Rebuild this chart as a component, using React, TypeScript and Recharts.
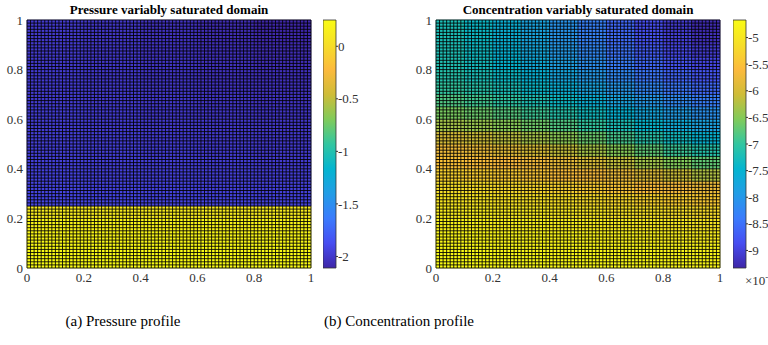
import { ComposedChart, XAxis, YAxis, ReferenceArea, ReferenceLine } from 'recharts';

// axis ticks shared by both panels
const axisTicks = [0, 0.2, 0.4, 0.6, 0.8, 1];

// pressure values, rows bottom -> top, 5 columns across x
const pressureRows = [
  [0.25, 0.25, 0.25, 0.25, 0.25],
  [0.24, 0.24, 0.24, 0.24, 0.24],
  [0.22, 0.22, 0.22, 0.22, 0.22],
  [0.19, 0.19, 0.19, 0.19, 0.19],
  [0.13, 0.13, 0.13, 0.13, 0.13],
  [-1.92, -1.92, -1.93, -1.93, -1.94],
  [-1.93, -1.94, -1.94, -1.95, -1.95],
  [-1.94, -1.95, -1.95, -1.96, -1.97],
  [-1.95, -1.96, -1.96, -1.97, -1.98],
  [-1.96, -1.96, -1.97, -1.98, -1.99],
  [-1.96, -1.97, -1.98, -1.99, -2.0],
  [-1.97, -1.98, -1.99, -2.0, -2.01],
  [-1.97, -1.98, -2.0, -2.01, -2.02],
  [-1.98, -1.99, -2.0, -2.02, -2.03],
  [-1.98, -1.99, -2.01, -2.03, -2.04],
  [-1.98, -2.0, -2.02, -2.04, -2.05],
  [-1.99, -2.0, -2.02, -2.04, -2.06],
  [-1.99, -2.01, -2.03, -2.05, -2.07],
  [-1.99, -2.01, -2.03, -2.06, -2.09],
  [-1.99, -2.01, -2.04, -2.07, -2.11],
];
const pressureRange = [-2.11, 0.25];
const pressureTicks = [-2, -1.5, -1, -0.5, 0];

// concentration values (x10^-3), rows bottom -> top, 10 columns across x
const concentrationRows = [
  [-4.67, -4.68, -4.68, -4.69, -4.7, -4.7, -4.71, -4.72, -4.73, -4.73],
  [-4.71, -4.71, -4.72, -4.73, -4.74, -4.75, -4.76, -4.77, -4.78, -4.79],
  [-4.76, -4.76, -4.77, -4.78, -4.79, -4.8, -4.82, -4.84, -4.86, -4.88],
  [-4.82, -4.83, -4.84, -4.85, -4.87, -4.89, -4.92, -4.95, -4.98, -5.01],
  [-4.9, -4.91, -4.93, -4.95, -4.98, -5.01, -5.05, -5.09, -5.13, -5.17],
  [-5.0, -5.02, -5.05, -5.08, -5.12, -5.17, -5.22, -5.28, -5.34, -5.4],
  [-5.13, -5.16, -5.2, -5.25, -5.31, -5.38, -5.46, -5.56, -5.66, -5.77],
  [-5.3, -5.34, -5.39, -5.46, -5.55, -5.66, -5.79, -5.94, -6.1, -6.25],
  [-5.5, -5.55, -5.62, -5.71, -5.83, -5.98, -6.15, -6.34, -6.53, -6.71],
  [-5.74, -5.8, -5.89, -6.0, -6.14, -6.31, -6.51, -6.73, -6.94, -7.12],
  [-6.02, -6.09, -6.19, -6.32, -6.48, -6.67, -6.88, -7.1, -7.31, -7.5],
  [-6.32, -6.39, -6.5, -6.64, -6.81, -7.0, -7.22, -7.44, -7.65, -7.82],
  [-6.58, -6.66, -6.78, -6.93, -7.11, -7.31, -7.52, -7.74, -7.93, -8.09],
  [-6.82, -6.91, -7.04, -7.19, -7.37, -7.58, -7.8, -8.0, -8.19, -8.35],
  [-7.0, -7.1, -7.23, -7.4, -7.59, -7.8, -8.02, -8.23, -8.42, -8.58],
  [-7.11, -7.22, -7.37, -7.55, -7.76, -7.98, -8.21, -8.43, -8.62, -8.77],
  [-7.17, -7.29, -7.46, -7.66, -7.88, -8.12, -8.36, -8.59, -8.79, -8.94],
  [-7.2, -7.34, -7.52, -7.73, -7.97, -8.22, -8.47, -8.71, -8.92, -9.08],
  [-7.22, -7.37, -7.56, -7.78, -8.03, -8.29, -8.55, -8.8, -9.02, -9.2],
  [-7.22, -7.38, -7.57, -7.8, -8.05, -8.32, -8.59, -8.85, -9.08, -9.27],
];
const concentrationRange = [-9.33, -4.67];
const concentrationTicks = [-9, -8.5, -8, -7.5, -7, -6.5, -6, -5.5, -5];

// mesh line positions (80 x 80 elements)
const meshLines = Array.from({ length: 81 }, (_, i) => i / 80);

const PARULA = [
  [0, 62, 38, 168],
  [0.1, 71, 77, 241],
  [0.2, 59, 123, 253],
  [0.3, 34, 157, 230],
  [0.4, 4, 181, 208],
  [0.5, 50, 198, 160],
  [0.6, 129, 203, 90],
  [0.7, 207, 188, 55],
  [0.8, 252, 186, 61],
  [0.9, 246, 222, 40],
  [1, 249, 251, 20],
];

const FONT = '"Liberation Serif", "Times New Roman", serif';
const TICK = { fill: '#333', fontSize: 13, fontFamily: FONT };
const W = 320;
const H = 290;
const MARGIN = { top: 20, right: 9, left: 0, bottom: 0 };

function parula(t: number) {
  const k = Math.max(0, Math.min(1, t));
  for (let i = 1; i < PARULA.length; i++) {
    const a = PARULA[i - 1];
    const b = PARULA[i];
    if (k <= b[0]) {
      const f = (k - a[0]) / (b[0] - a[0]);
      const c = [1, 2, 3].map((j) => Math.round(a[j] + (b[j] - a[j]) * f));
      return `rgb(${c[0]},${c[1]},${c[2]})`;
    }
  }
  return 'rgb(249,251,20)';
}

function HeatPanel({ left, title, rows, range }: { left: number; title: string; rows: number[][]; range: number[] }) {
  const cells: { x1: number; x2: number; y1: number; y2: number; v: number }[] = [];
  rows.forEach((row, r) =>
    row.forEach((v, c) =>
      cells.push({ x1: c / row.length, x2: (c + 1) / row.length, y1: r / rows.length, y2: (r + 1) / rows.length, v })
    )
  );
  const plotLeft = 27;
  const plotW = W - plotLeft - MARGIN.right;
  return (
    <div style={{ position: 'absolute', left, top: 0, width: W, height: H }}>
      <div
        style={{
          position: 'absolute',
          left: plotLeft,
          width: plotW,
          top: 2,
          lineHeight: '16px',
          textAlign: 'center',
          fontWeight: 'bold',
          fontSize: 13,
          whiteSpace: 'nowrap',
        }}
      >
        {title}
      </div>
      <div style={{ position: 'absolute', left: 0, top: 0 }}>
        <ComposedChart width={W} height={H} margin={MARGIN} data={cells}>
          <XAxis
            type="number"
            dataKey="x1"
            domain={[0, 1]}
            ticks={axisTicks}
            allowDataOverflow
            height={22}
            axisLine={false}
            tickLine={false}
            tickSize={4}
            tickMargin={1}
            tick={TICK}
            interval={0}
          />
          <YAxis
            type="number"
            dataKey="y1"
            domain={[0, 1]}
            ticks={axisTicks}
            allowDataOverflow
            width={plotLeft}
            axisLine={false}
            tickLine={false}
            tickSize={2}
            tickMargin={2}
            tick={TICK}
            interval={0}
          />
          {cells.map((c, i) => {
            const col = parula((c.v - range[0]) / (range[1] - range[0]));
            return (
              <ReferenceArea
                key={i}
                x1={c.x1}
                x2={c.x2}
                y1={c.y1}
                y2={c.y2}
                fill={col}
                fillOpacity={1}
                stroke={col}
                strokeWidth={0.5}
              />
            );
          })}
        </ComposedChart>
      </div>
      <div style={{ position: 'absolute', left: 0, top: 0 }}>
        {/* faceted mesh drawn on top of the cells */}
        <ComposedChart width={W} height={H} margin={MARGIN} data={cells}>
          <XAxis type="number" dataKey="x1" domain={[0, 1]} allowDataOverflow height={22} tick={false} tickLine={false} axisLine={false} />
          <YAxis type="number" dataKey="y1" domain={[0, 1]} allowDataOverflow width={plotLeft} tick={false} tickLine={false} axisLine={false} />
          {meshLines.map((m) => (
            <ReferenceLine key={`v${m}`} x={m} stroke="#000" strokeOpacity={0.85} strokeWidth={1} ifOverflow="visible" />
          ))}
          {meshLines.map((m) => (
            <ReferenceLine key={`h${m}`} y={m} stroke="#000" strokeOpacity={0.85} strokeWidth={1} ifOverflow="visible" />
          ))}
        </ComposedChart>
      </div>
    </div>
  );
}

function ColorBar({ left, id, range, ticks, width }: { left: number; id: string; range: number[]; ticks: number[]; width: number }) {
  const ends = [
    { x: 0, y: range[0] },
    { x: 1, y: range[1] },
  ];
  return (
    <div style={{ position: 'absolute', left, top: 0 }}>
      <ComposedChart width={width + 36} height={H} margin={{ top: 20, right: 0, left: 0, bottom: 22 }} data={ends}>
        <defs>
          <linearGradient id={id} x1="0" y1="1" x2="0" y2="0">
            {PARULA.map((s) => (
              <stop key={s[0]} offset={`${s[0] * 100}%`} stopColor={`rgb(${s[1]},${s[2]},${s[3]})`} />
            ))}
          </linearGradient>
        </defs>
        <XAxis type="number" dataKey="x" domain={[0, 1]} hide />
        <YAxis
          type="number"
          dataKey="y"
          orientation="right"
          domain={range}
          ticks={ticks}
          allowDataOverflow
          width={36}
          axisLine={false}
          tickSize={2}
          tickMargin={0}
          tickLine={{ stroke: '#333' }}
          tick={TICK}
          interval={0}
        />
        <ReferenceArea
          x1={0}
          x2={1}
          y1={range[0]}
          y2={range[1]}
          fill={`url(#${id})`}
          fillOpacity={1}
          stroke="#333"
          strokeWidth={0.8}
        />
      </ComposedChart>
    </div>
  );
}

export default function App() {
  return (
    <div
      style={{
        position: 'absolute',
        left: 0,
        top: 0,
        width: 768,
        height: 345,
        overflow: 'hidden',
        background: '#fff',
        fontFamily: FONT,
        color: '#000',
      }}
    >
      <style>{`svg text { font-family: "Liberation Serif", "Times New Roman", serif; }`}</style>
      <HeatPanel left={0} title="Pressure variably saturated domain" rows={pressureRows} range={pressureRange} />
      <ColorBar left={323} id="cbP" range={pressureRange} ticks={pressureTicks} width={13} />
      <HeatPanel left={409} title="Concentration variably saturated domain" rows={concentrationRows} range={concentrationRange} />
      <ColorBar left={733} id="cbC" range={concentrationRange} ticks={concentrationTicks} width={13} />
      <div style={{ position: 'absolute', left: 745, top: 272, fontSize: 13, color: '#333', whiteSpace: 'nowrap' }}>
        ×10<sup style={{ fontSize: 9 }}>-3</sup>
      </div>
      <div style={{ position: 'absolute', left: 0, width: 246, top: 312, textAlign: 'center', fontSize: 15, lineHeight: '18px' }}>
        (a) Pressure profile
      </div>
      <div style={{ position: 'absolute', left: 249, width: 300, top: 312, textAlign: 'center', fontSize: 15, lineHeight: '18px' }}>
        (b) Concentration profile
      </div>
    </div>
  );
}
